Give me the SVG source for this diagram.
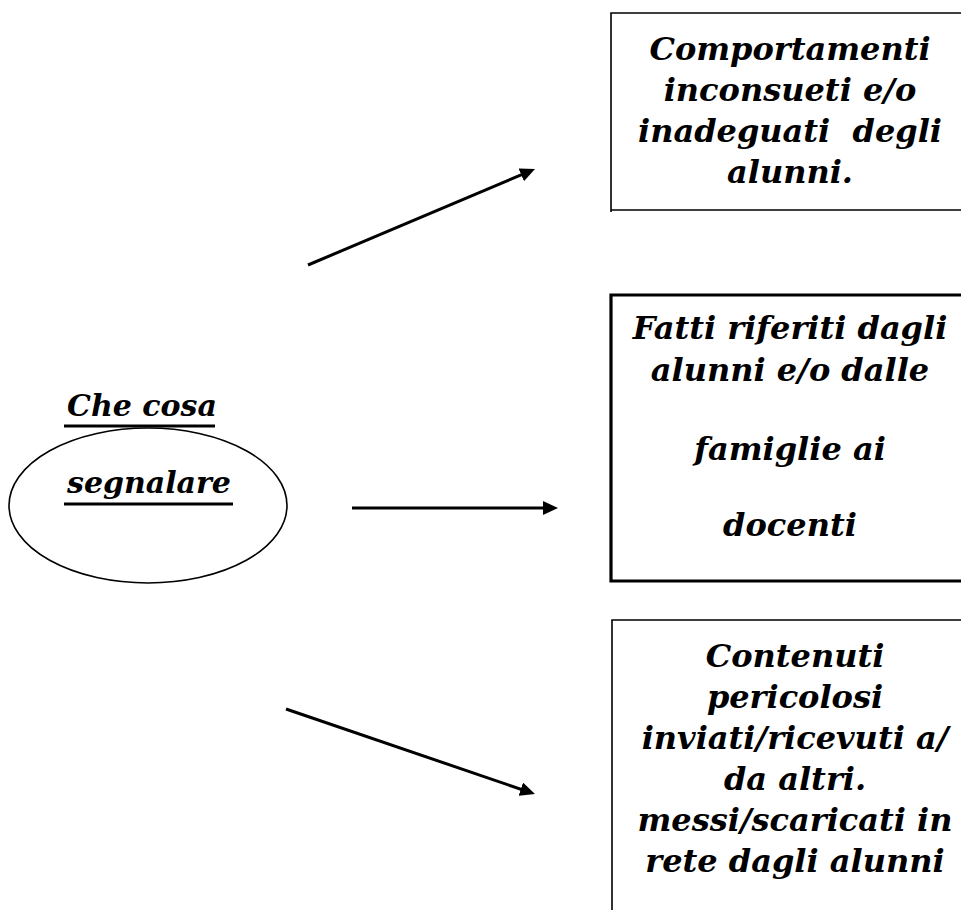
<svg xmlns="http://www.w3.org/2000/svg" width="961" height="910" viewBox="0 0 961 910">
<style>
.t{font-family:"DejaVu Serif",serif;font-weight:bold;font-style:italic;font-size:32px;fill:#000;text-anchor:middle}
.c{font-family:"DejaVu Serif",serif;font-weight:bold;font-style:italic;font-size:30px;fill:#000}
.thin{fill:none;stroke:#000;stroke-width:1.6}
.thick{fill:none;stroke:#000;stroke-width:3.2}
.ul{stroke:#000;stroke-width:3.2}
.arr{stroke:#000;stroke-width:3;fill:none;marker-end:url(#ah)}
</style>
<defs>
<marker id="ah" markerUnits="userSpaceOnUse" markerWidth="16" markerHeight="14" refX="9" refY="7" orient="auto">
<path d="M0,0 L15,7 L0,14 z" fill="#000"/>
</marker>
</defs>
<rect width="961" height="910" fill="#fff"/>
<g id="source">
<ellipse cx="148" cy="505.5" rx="139" ry="77.5" class="thin"/>
<text class="c" x="67" y="416">Che cosa</text>
<line class="ul" x1="64" y1="426" x2="215" y2="426"/>
<text class="c" x="67" y="493">segnalare</text>
<line class="ul" x1="64" y1="504" x2="233" y2="504"/>
</g>
<g id="box1">
<path class="thin" d="M980,13 H611 V212 M611,210 H980"/>
<text class="t" x="790" y="60">Comportamenti</text>
<text class="t" x="790" y="101">inconsueti e/o</text>
<text class="t" x="790" y="142" xml:space="preserve">inadeguati  degli</text>
<text class="t" x="790" y="183">alunni.</text>
</g>
<g id="box2">
<path class="thick" d="M980,295 H611 V581 H980"/>
<text class="t" x="790" y="339">Fatti riferiti dagli</text>
<text class="t" x="790" y="381">alunni e/o dalle</text>
<text class="t" x="790" y="460">famiglie ai</text>
<text class="t" x="790" y="536">docenti</text>
</g>
<g id="box3">
<path class="thin" d="M980,620 H612 V910"/>
<text class="t" x="795" y="667">Contenuti</text>
<text class="t" x="795" y="708">pericolosi</text>
<text class="t" x="795" y="749">inviati/ricevuti a/</text>
<text class="t" x="795" y="790">da altri.</text>
<text class="t" x="795" y="831">messi/scaricati in</text>
<text class="t" x="795" y="872">rete dagli alunni</text>
</g>
<g id="connectors">
<line class="arr" x1="308" y1="265" x2="529.5" y2="171.3"/>
<line class="arr" x1="352" y1="508" x2="552" y2="508"/>
<line class="arr" x1="286" y1="709" x2="529.3" y2="792.1"/>
</g>
</svg>
